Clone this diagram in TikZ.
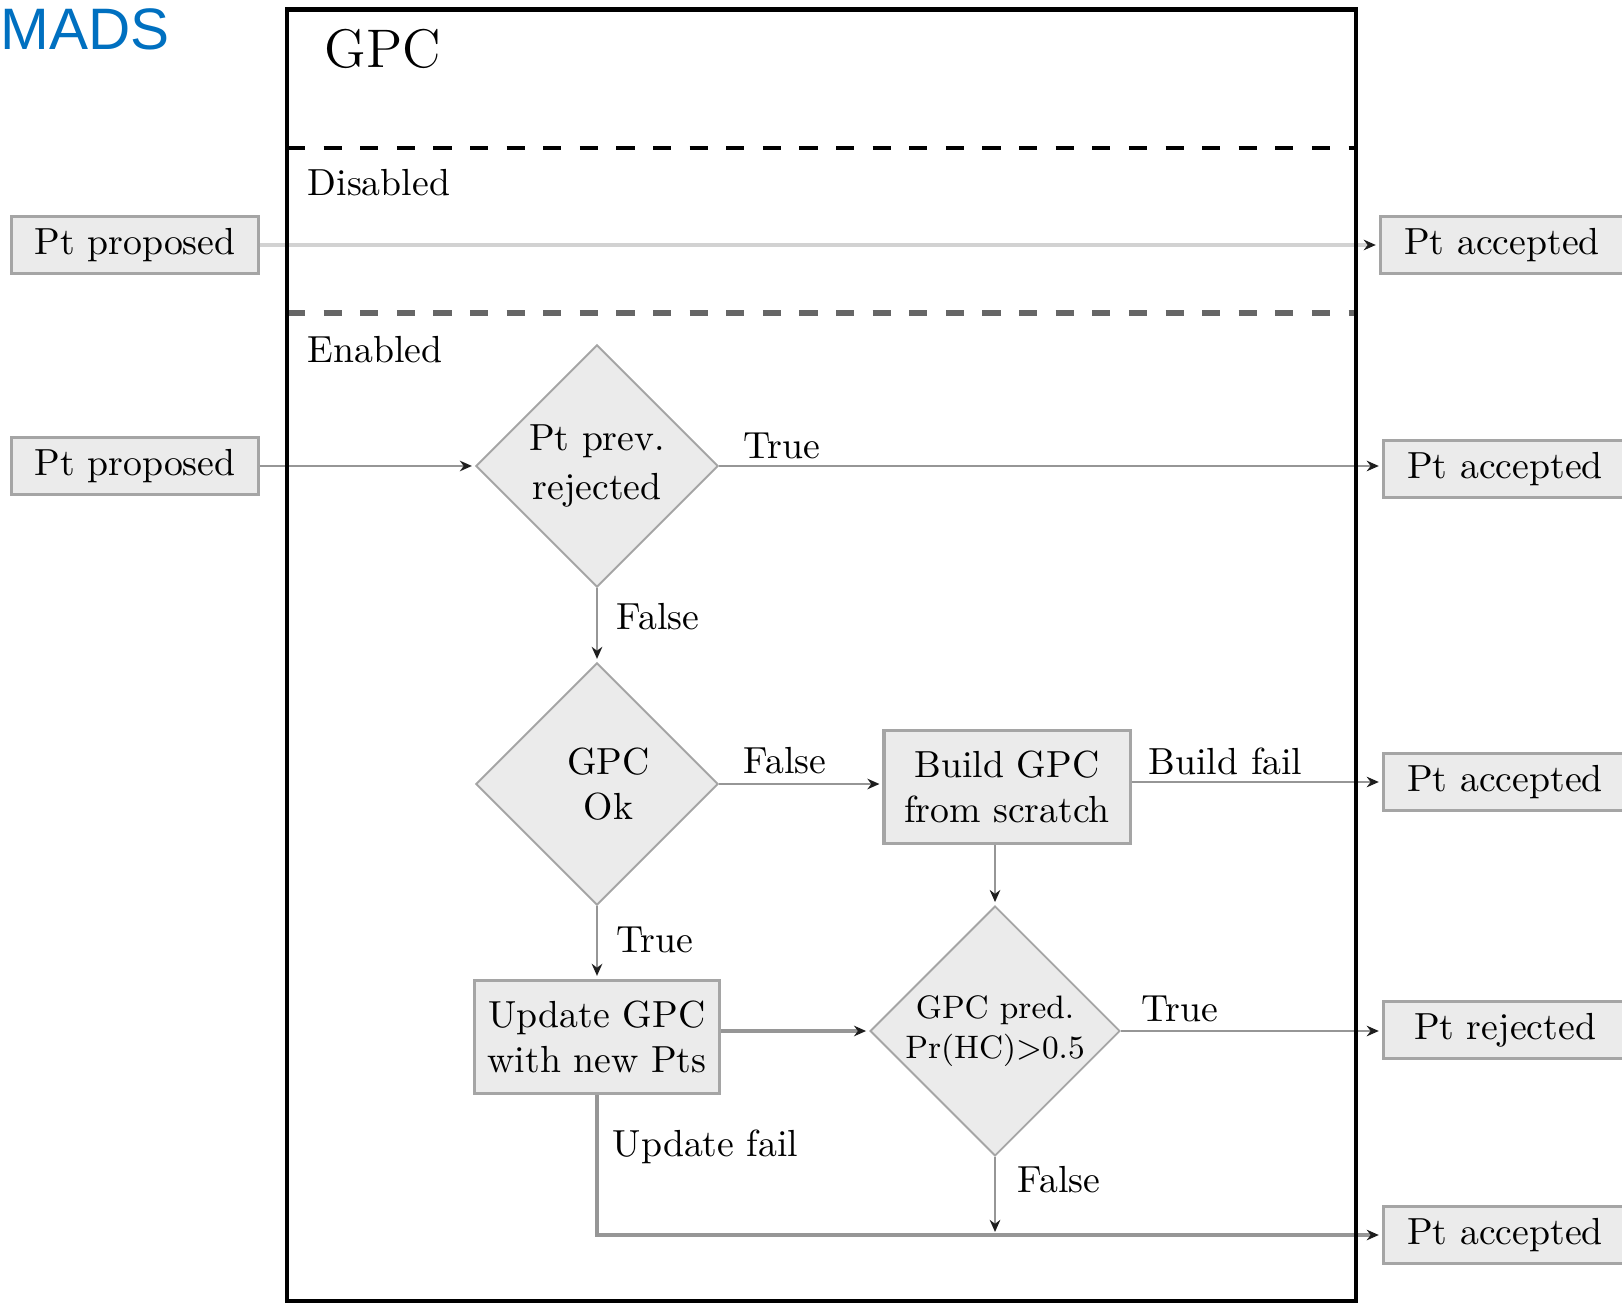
\documentclass[tikz,border=0pt]{standalone}
\usepackage{fontspec}
\newfontfamily\madsfont{Liberation Sans}
\usetikzlibrary{shapes.geometric,arrows.meta}
\definecolor{madsblue}{RGB}{0,112,192}
\definecolor{nodefill}{RGB}{235,235,235}
\definecolor{nodeedge}{RGB}{165,165,165}
\definecolor{linegray}{RGB}{150,150,150}
\definecolor{lightline}{RGB}{210,210,210}
\definecolor{tipcol}{RGB}{30,30,30}
\tikzset{
  box/.style={draw=nodeedge, fill=nodefill, line width=0.8pt, inner sep=0pt, align=center, font=\normalsize},
  ptbox/.style={box, minimum width=64.5pt, minimum height=15.1pt},
  procbox/.style={box, minimum width=65pt, minimum height=30pt},
  decision/.style={diamond, draw=nodeedge, fill=nodefill, line width=0.5pt, inner sep=0pt, aspect=1, minimum width=64.2pt, minimum height=64.2pt, align=center},
  conn/.style={draw=linegray, line width=0.6pt, -{Stealth[length=3.2pt,width=2.8pt,color=tipcol]}, shorten >=0.8pt},
  lbl/.style={anchor=west, inner sep=0pt, font=\normalsize},
}
\begin{document}
\begin{tikzpicture}[x=0.265pt,y=-0.265pt]
\useasboundingbox (0,0) rectangle (1622,1303);

% title
\node[anchor=base west, inner sep=0pt, font=\madsfont\fontsize{15.5}{18}\selectfont, text=madsblue] (mads) at (0,50) {MADS};

% section texts
\node[anchor=west, inner sep=0pt, font=\Large] (gpc) at (324,49) {GPC};
\node[lbl] (dis) at (307,183) {Disabled};
\node[lbl] (ena) at (307,350) {Enabled};

% nodes
\node[ptbox, minimum width=65.2pt] (ppA) at (135,245) {Pt proposed};
\node[ptbox] (paA) at (1502,245) {Pt accepted};
\node[ptbox, minimum width=65.2pt] (ppB) at (135,466) {Pt proposed};
\node[decision] (d1) at (597,466) {Pt prev.\\[1pt]rejected};
\node[ptbox] (paB) at (1505,469) {Pt accepted};
\node[decision] (d2) at (597,784) {\hspace*{6pt}GPC\\\hspace*{6pt}Ok};
\node[procbox, minimum width=65.2pt] (build) at (1007,787) {Build GPC\\from scratch};
\node[ptbox] (paC) at (1505,782) {Pt accepted};
\node[decision, font=\fontsize{8.6}{10.5}\selectfont] (d3) at (995,1031) {GPC pred.\\Pr(HC)>0.5};
\node[ptbox] (prej) at (1505,1030) {Pt rejected};
\node[procbox] (upd) at (597,1037) {Update GPC\\with new Pts};
\node[ptbox] (paD) at (1505,1235) {Pt accepted};

% connectors
\draw[conn, draw=lightline, line width=1.3pt] (ppA.east) -- (paA.west);
\draw[conn] (ppB.east) -- (d1.west);
\draw[conn] (d1.east) -- (d1.east -| paB.west);
\draw[conn] (d1.south) -- (d2.north);
\draw[conn] (d2.east) -- (d2.east -| build.west);
\draw[conn] (build.east |- paC.west) -- (paC.west);
\draw[conn] (build.south -| d3.north) -- (d3.north);
\draw[conn] (d2.south) -- (upd.north);
\draw[conn, line width=0.9pt] (upd.east |- d3.west) -- (d3.west);
\draw[conn] (d3.east) -- (d3.east -| prej.west);
\coordinate (jn) at (d3.south |- paD.west);
\draw[conn] (d3.south) -- (jn);
\draw[conn, line width=1pt] (upd.south) -- (upd.south |- paD.west) -- (paD.west);

% labels
\node[lbl] (tA) at (743,446) {True};
\node[lbl] (fA) at (616,617) {False};
\node[lbl] (fB) at (743,761) {False};
\node[lbl] (bf) at (1148,761) {Build fail};
\node[lbl] (tB) at (616,940) {True};
\node[lbl] (tC) at (1141,1009) {True};
\node[lbl] (uf) at (612,1147) {Update fail};
\node[lbl] (fC) at (1017,1180) {False};

% frame and separators
\draw[black, dash pattern=on 4.8pt off 4.9pt, line width=1pt] (287,148) -- (1356,148);
\draw[black!60, dash pattern=on 4.8pt off 4.9pt, line width=1.8pt] (287,313) -- (1356,313);
\draw[black, line width=1.2pt] (287,9.5) rectangle (1356,1301);
\end{tikzpicture}
\end{document}
